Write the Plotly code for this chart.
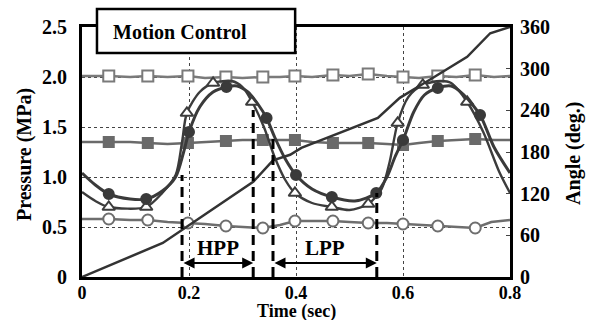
import plotly.graph_objects as go

# ---------------- data ----------------
# Open squares (~2.0 MPa)
sqo_t = [0, 0.05, 0.09, 0.123, 0.16, 0.198, 0.23, 0.269, 0.30, 0.338, 0.37, 0.398, 0.43, 0.469, 0.50, 0.535, 0.57, 0.600, 0.63, 0.665, 0.70, 0.735, 0.77, 0.8]
sqo_p = [2.01, 2.01, 2.00, 2.01, 2.00, 2.01, 1.99, 2.00, 1.99, 2.00, 2.00, 2.01, 2.00, 2.02, 2.01, 2.03, 2.01, 2.00, 1.99, 2.01, 2.00, 2.02, 2.00, 2.01]
sqo_marks = [0.05, 0.123, 0.198, 0.269, 0.338, 0.398, 0.469, 0.535, 0.600, 0.665, 0.735]

# Filled squares (~1.35 MPa)
sqf_t = [0, 0.05, 0.09, 0.123, 0.16, 0.198, 0.23, 0.269, 0.30, 0.338, 0.37, 0.398, 0.43, 0.469, 0.50, 0.535, 0.57, 0.600, 0.63, 0.665, 0.70, 0.735, 0.77, 0.8]
sqf_p = [1.35, 1.35, 1.35, 1.34, 1.33, 1.34, 1.35, 1.36, 1.37, 1.37, 1.37, 1.37, 1.35, 1.34, 1.34, 1.34, 1.33, 1.32, 1.34, 1.36, 1.37, 1.38, 1.37, 1.37]
sqf_marks = [0.05, 0.123, 0.198, 0.269, 0.338, 0.398, 0.469, 0.535, 0.600, 0.665, 0.735]

# Open circles (~0.5 MPa)
cio_t = [0, 0.05, 0.09, 0.123, 0.16, 0.198, 0.23, 0.269, 0.30, 0.338, 0.37, 0.398, 0.43, 0.469, 0.50, 0.535, 0.57, 0.600, 0.63, 0.665, 0.70, 0.735, 0.765, 0.8]
cio_p = [0.58, 0.58, 0.57, 0.57, 0.55, 0.54, 0.53, 0.51, 0.50, 0.49, 0.52, 0.56, 0.56, 0.56, 0.55, 0.54, 0.54, 0.53, 0.52, 0.51, 0.50, 0.49, 0.55, 0.57]
cio_marks = [0.05, 0.123, 0.198, 0.269, 0.338, 0.398, 0.469, 0.535, 0.600, 0.665, 0.735]

# Filled circles (large swing)
cif_t = [0, 0.025, 0.05, 0.09, 0.12, 0.15, 0.175, 0.19, 0.20, 0.22, 0.245, 0.27, 0.29, 0.31, 0.33, 0.345, 0.36, 0.38, 0.40, 0.43, 0.467, 0.51, 0.55, 0.57, 0.585, 0.60, 0.62, 0.64, 0.665, 0.69, 0.71, 0.744, 0.77, 0.8]
cif_p = [1.04, 0.92, 0.83, 0.78, 0.78, 0.86, 1.00, 1.25, 1.45, 1.70, 1.85, 1.90, 1.91, 1.85, 1.72, 1.59, 1.40, 1.18, 1.02, 0.88, 0.80, 0.76, 0.84, 1.00, 1.20, 1.37, 1.65, 1.82, 1.89, 1.91, 1.84, 1.62, 1.30, 1.04]
cif_marks = [0.05, 0.12, 0.20, 0.27, 0.345, 0.40, 0.467, 0.55, 0.60, 0.665, 0.744]

# Open triangles (large swing)
tri_t = [0, 0.025, 0.05, 0.12, 0.15, 0.175, 0.187, 0.196, 0.22, 0.245, 0.28, 0.30, 0.318, 0.34, 0.36, 0.38, 0.398, 0.43, 0.467, 0.50, 0.535, 0.56, 0.575, 0.59, 0.61, 0.637, 0.67, 0.69, 0.72, 0.75, 0.78, 0.8]
tri_p = [0.85, 0.76, 0.70, 0.70, 0.84, 1.02, 1.35, 1.64, 1.85, 1.94, 1.96, 1.90, 1.75, 1.50, 1.20, 0.97, 0.84, 0.74, 0.70, 0.67, 0.73, 0.88, 1.15, 1.54, 1.80, 1.92, 1.96, 1.94, 1.75, 1.45, 1.05, 0.84]
tri_marks = [0.05, 0.12, 0.196, 0.245, 0.318, 0.398, 0.467, 0.535, 0.59, 0.637, 0.72]

# Angle (deg), right axis
ang_t = [0, 0.151, 0.32, 0.357, 0.389, 0.41, 0.553, 0.594, 0.65, 0.72, 0.763, 0.8]
ang_d = [0, 49, 137, 168, 176, 186, 229, 258, 284, 317, 351, 360]

# Phase boundaries (dashed lines) and their top ends (MPa)
bound_t = [0.187, 0.32, 0.357, 0.551]
bound_top = [1.02, 1.67, 1.39, 0.84]
phase_labels = ["HPP", "LPP"]

x_ticks = [0, 0.2, 0.4, 0.6, 0.8]
x_ticktext = ["0", "0.2", "0.4", "0.6", "0.8"]
y_ticks = [0, 0.5, 1.0, 1.5, 2.0, 2.5]
y_ticktext = ["0", "0.5", "1.0", "1.5", "2.0", "2.5"]
y2_ticks = [0, 60, 120, 180, 240, 300, 360]
y2_ticktext = ["0", "60", "120", "180", "240", "300", "360"]

FONT = "Liberation Serif, Times New Roman, serif"


def pick(t, v, marks):
    mt, mv = [], []
    for m in marks:
        i = min(range(len(t)), key=lambda k: abs(t[k] - m))
        mt.append(t[i]); mv.append(v[i])
    return mt, mv


fig = go.Figure()


def series(t, v, marks, color, lw, symbol, mfill, msize, shape="linear"):
    fig.add_trace(go.Scatter(x=t, y=v, mode="lines",
                             line=dict(color=color, width=lw, shape=shape, smoothing=0.8),
                             hoverinfo="skip", showlegend=False))
    mt, mv = pick(t, v, marks)
    fig.add_trace(go.Scatter(x=mt, y=mv, mode="markers",
                             marker=dict(symbol=symbol, size=msize, color=mfill,
                                         line=dict(color=color, width=2)),
                             hoverinfo="skip", showlegend=False))


series(sqo_t, sqo_p, sqo_marks, "#7a7a7a", 2.5, "square", "white", 11)
series(sqf_t, sqf_p, sqf_marks, "#6a6a6a", 2.5, "square", "#6a6a6a", 10)
series(cio_t, cio_p, cio_marks, "#6e6e6e", 2.5, "circle", "white", 11)
series(tri_t, tri_p, tri_marks, "#3c3c3c", 2.4, "triangle-up", "white", 11, "spline")
series(cif_t, cif_p, cif_marks, "#3a3a3a", 3, "circle", "#3a3a3a", 10, "spline")

fig.add_trace(go.Scatter(x=ang_t, y=ang_d, mode="lines", yaxis="y2",
                         line=dict(color="#333333", width=2.5),
                         hoverinfo="skip", showlegend=False))

shapes = []
for bt, top in zip(bound_t, bound_top):
    shapes.append(dict(type="line", xref="x", yref="y", x0=bt, x1=bt, y0=0, y1=top,
                       line=dict(color="black", width=3, dash="10px,6px"), layer="above"))

# title box
shapes.append(dict(type="rect", xref="paper", yref="paper", x0=0.035, x1=0.498,
                   y0=0.896, y1=1.072, fillcolor="white",
                   line=dict(color="black", width=2.5), layer="above"))

annotations = [
    dict(text="<b>Motion Control</b>", xref="paper", yref="paper", x=0.23, y=0.98,
         xanchor="center", yanchor="middle",
         showarrow=False, font=dict(family=FONT, size=20, color="black")),
    dict(text="<b>Time (sec)</b>", xref="paper", yref="paper", x=0.5, y=-0.136,
         xanchor="center", yanchor="middle",
         showarrow=False, font=dict(family=FONT, size=18, color="black")),
    dict(text="<b>Pressure (MPa)</b>", xref="paper", yref="paper", x=-0.1355, y=0.488,
         xanchor="center", yanchor="middle",
         textangle=-90, showarrow=False, font=dict(family=FONT, size=20, color="black")),
    dict(text="<b>Angle (deg.)</b>", xref="paper", yref="paper", x=1.147, y=0.496,
         xanchor="center", yanchor="middle",
         textangle=-90, showarrow=False, font=dict(family=FONT, size=20, color="black")),
]

# phase arrows and labels
pairs = [(bound_t[0], bound_t[1]), (bound_t[2], bound_t[3])]
for (a, b), lab in zip(pairs, phase_labels):
    annotations.append(dict(x=b, y=0.14, ax=a, ay=0.14, xref="x", yref="y",
                            axref="x", ayref="y", text="", showarrow=True,
                            arrowhead=2, arrowside="end+start", arrowsize=1.1,
                            arrowwidth=2, arrowcolor="black", standoff=0, startstandoff=0))
    annotations.append(dict(x=(a + b) / 2, y=0.29, xref="x", yref="y", text="<b>%s</b>" % lab,
                            xanchor="center", yanchor="middle",
                            showarrow=False, font=dict(family=FONT, size=21, color="black")))

tick_font = dict(family=FONT, size=20, color="black")

fig.update_layout(
    width=594, height=320,
    margin=dict(l=82, r=84, t=27, b=43),
    paper_bgcolor="white", plot_bgcolor="white",
    font=dict(family=FONT, color="black"),
    xaxis=dict(range=[0, 0.8], tickvals=x_ticks, ticktext=["<b>%s</b>" % s for s in x_ticktext],
               showgrid=True, gridcolor="#444", griddash="dot", gridwidth=1,
               showline=True, linecolor="black", linewidth=3, mirror=True,
               ticks="", zeroline=False, ticklabelstandoff=-3,
               tickfont=dict(family=FONT, size=18, color="black")),
    yaxis=dict(range=[0, 2.5], tickvals=y_ticks, ticktext=["<b>%s</b>" % s for s in y_ticktext],
               showgrid=True, gridcolor="#444", griddash="dot", gridwidth=1,
               showline=True, linecolor="black", linewidth=3,
               ticks="", zeroline=False, ticklabelstandoff=8,
               tickfont=tick_font),
    yaxis2=dict(range=[0, 360], tickvals=y2_ticks, ticktext=["<b>%s</b>" % s for s in y2_ticktext],
                overlaying="y", side="right",
                showgrid=False, showline=True, linecolor="black", linewidth=3,
                ticks="inside", ticklen=4, tickcolor="#444", zeroline=False,
                ticklabelstandoff=3,
                tickfont=tick_font),
    shapes=shapes, annotations=annotations,
)

fig.write_html("out.html")
